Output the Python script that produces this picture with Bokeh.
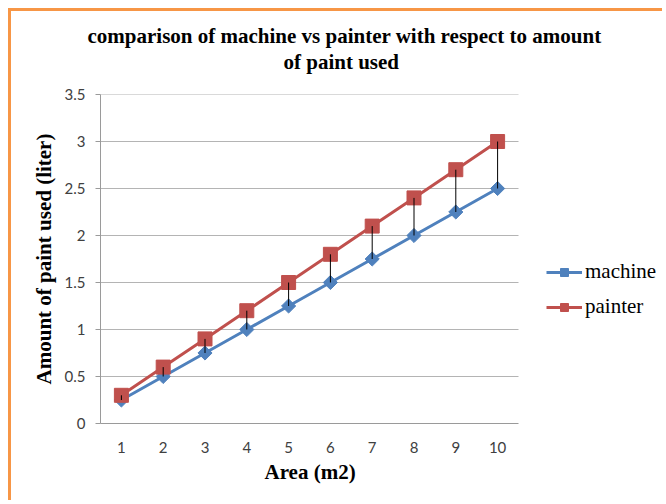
from bokeh.plotting import figure
from bokeh.models import Range1d, FixedTicker, NumeralTickFormatter, Legend, LegendItem, Title
from bokeh.embed import file_html
from bokeh.resources import INLINE
import numpy as np

areas = [1, 2, 3, 4, 5, 6, 7, 8, 9, 10]
machine = [0.25, 0.5, 0.75, 1.0, 1.25, 1.5, 1.75, 2.0, 2.25, 2.5]
painter = [0.3, 0.6, 0.9, 1.2, 1.5, 1.8, 2.1, 2.4, 2.7, 3.0]
y_ticks = [0, 0.5, 1, 1.5, 2, 2.5, 3, 3.5]

title_1 = "comparison of machine vs painter with respect to amount"
title_2 = "of paint used"
x_label = "Area (m2)"
y_label = "Amount of paint used (liter)"

SERIF = "Liberation Serif"
SANS = "Lato"
BLUE = "#4F81BD"
RED = "#C0504D"
GRID = "#B4B4B4"

# layout: plotting area is 418px wide; the frame is widened to hold the legend
W, H = 654, 492
LEFT, TOP, BOTTOM = 89, 83, 80
PLOT_W = 418
FRAME_W = W - LEFT
X_START = 0.5
X_STOP = len(areas) + 0.5
X_END = X_START + len(areas) * FRAME_W / PLOT_W

p = figure(width=W, height=H, output_backend="svg", toolbar_location=None,
           x_range=Range1d(X_START, X_END), y_range=Range1d(y_ticks[0], y_ticks[-1]),
           min_border_left=LEFT, min_border_top=TOP, min_border_right=0, min_border_bottom=BOTTOM)
p.styles = {"margin-top": "8px", "margin-left": "8px",
            "border-top": "3px solid #F79646", "border-left": "3px solid #F79646"}
p.title = None
p.outline_line_color = None
p.background_fill_color = "white"
p.border_fill_color = "white"

spacer = Title(text=" ", text_font_size="10px", standoff=8)
t2 = Title(text=title_2, align="left", offset=183, text_font=SERIF, text_font_size="21px",
           text_font_style="bold", text_color="black", standoff=0)
t1 = Title(text=title_1, align="left", offset=-13, text_font=SERIF, text_font_size="21px",
           text_font_style="bold", text_color="black", standoff=0)
p.add_layout(spacer, "above")
p.add_layout(t2, "above")
p.add_layout(t1, "above")

# axes
p.yaxis.ticker = FixedTicker(ticks=y_ticks)
p.yaxis.formatter = NumeralTickFormatter(format="0.[0]")
p.yaxis.axis_line_color = "#9A9A9A"
p.yaxis.major_tick_line_color = "#9A9A9A"
p.yaxis.major_tick_out = 5
p.yaxis.major_tick_in = 0
p.yaxis.minor_tick_line_color = None
p.yaxis.major_label_standoff = 10
p.yaxis.major_label_text_font = SANS
p.yaxis.major_label_text_font_size = "15px"
p.yaxis.major_label_text_color = "#404040"
p.yaxis.axis_label = y_label
p.yaxis.axis_label_text_font = SERIF
p.yaxis.axis_label_text_font_size = "21px"
p.yaxis.axis_label_text_font_style = "bold"
p.yaxis.axis_label_text_color = "black"
p.yaxis.axis_label_standoff = 6

p.xaxis.ticker = FixedTicker(ticks=areas)
p.xaxis.bounds = (X_START, X_STOP)
p.xaxis.axis_line_color = "#9A9A9A"
p.xaxis.major_tick_line_color = None
p.xaxis.minor_tick_line_color = None
p.xaxis.major_label_standoff = 12
p.xaxis.major_label_text_font = SANS
p.xaxis.major_label_text_font_size = "15px"
p.xaxis.major_label_text_color = "#404040"

# x-axis title, centred under the plotting area
xt = Title(text=x_label, align="left", offset=164, text_font=SERIF, text_font_size="21px",
           text_font_style="bold", text_color="black", standoff=5)
p.add_layout(xt, "below")

# horizontal gridlines limited to the plotting area
p.xgrid.grid_line_color = None
p.ygrid.grid_line_color = None
grid_y = y_ticks[1:]
p.segment(x0=[X_START] * len(grid_y), y0=grid_y, x1=[X_STOP] * len(grid_y), y1=grid_y,
          line_color=GRID, line_width=1, level="underlay")

ml = p.line(areas, machine, line_color=BLUE, line_width=3)
ms = p.scatter(areas, machine, marker="square", angle=np.pi / 4, size=10,
               fill_color=BLUE, line_color=BLUE)
pl = p.line(areas, painter, line_color=RED, line_width=3)
ps = p.scatter(areas, painter, marker="square", size=14, fill_color=RED, line_color=RED)
p.segment(x0=areas, y0=machine, x1=areas, y1=painter, line_color="black", line_width=1)

legend = Legend(items=[LegendItem(label="machine", renderers=[ml, ms]),
                       LegendItem(label="painter", renderers=[pl, ps])],
                location=(446, 104), padding=0, margin=0, spacing=10,
                glyph_width=36, glyph_height=20, label_height=20, label_standoff=3,
                label_text_font=SERIF, label_text_font_size="21px", label_text_color="black",
                border_line_color=None, background_fill_alpha=0)
p.add_layout(legend, "center")

open("out.html", "w").write(file_html(p, INLINE))
